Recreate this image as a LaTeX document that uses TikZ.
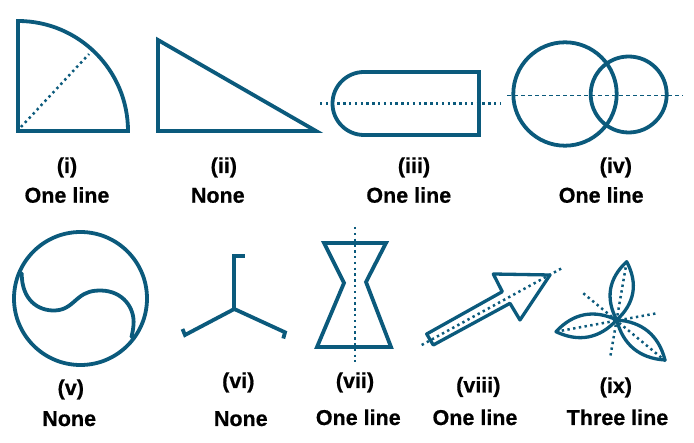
\documentclass[tikz,border=0pt]{standalone}
\usepackage{fontspec}
\setmainfont{Liberation Sans}[BoldFeatures={FakeBold=0.6}]
\usetikzlibrary{calc}
\definecolor{ink}{HTML}{0B5A7C}
\tikzset{
  outline/.style={draw=ink, line width=3.8pt, line join=miter},
  thinout/.style={draw=ink, line width=3.3pt, line join=round},
  dotline/.style={draw=ink, line width=2.5pt, dash pattern=on 2.4pt off 3.4pt},
  dashline/.style={draw=ink, line width=1.4pt, dash pattern=on 4pt off 3pt},
  lab/.style={anchor=base, inner sep=0pt, font=\fontsize{21.5}{24}\selectfont\bfseries, text=black}
}
\begin{document}
\begin{tikzpicture}[x=1pt,y=-1pt]
\useasboundingbox (0,0) rectangle (694,443);

% (i) quarter circle
\coordinate (qa) at (18,131);
\coordinate (qb) at (18,21);
\coordinate (d1a) at (21,127);
\coordinate (d1b) at (89,54);
\draw[outline] (qa) -- (qb) arc[start angle=-90, end angle=0, radius=110] -- cycle;
\draw[dotline] (d1a) -- (d1b);
\node[lab] (l1a) at (67,173) {(i)};
\node[lab] (l1b) at (67,202.7) {One line};

% (ii) triangle
\coordinate (ta) at (158,40);
\coordinate (tb) at (158,131);
\coordinate (tc) at (316,131);
\draw[outline] (ta) -- (tb) -- (tc) -- cycle;
\node[lab] (l2a) at (223.8,173) {(ii)};
\node[lab] (l2b) at (217.8,202.7) {None};

% (iii) rounded rectangle
\coordinate (ra) at (479,72);
\coordinate (rb) at (364,72);
\coordinate (rc) at (479,135);
\coordinate (d3a) at (320,103.7);
\coordinate (d3b) at (500,103.7);
\draw[outline] (ra) -- (rb) arc[start angle=-90, end angle=-270, radius=31.5] -- (rc) -- cycle;
\draw[dotline] (d3a) -- (d3b);
\node[lab] (l3a) at (414,173) {(iii)};
\node[lab] (l3b) at (408.8,202.7) {One line};

% (iv) two circles
\coordinate (ca) at (565,94);
\coordinate (cb) at (628.7,94.5);
\coordinate (d4a) at (507,95.3);
\coordinate (d4b) at (683,95.3);
\draw[outline] (ca) circle[radius=51.7];
\draw[outline] (cb) circle[radius=38];
\draw[dashline] (d4a) -- (d4b);
\node[lab] (l4a) at (615.8,173) {(iv)};
\node[lab] (l4b) at (601.2,202.7) {One line};

% (v) circle with S curve
\coordinate (vc) at (80.5,298.5);
\coordinate (va) at (21.7,273.3);
\coordinate (vb) at (131.5,337);
\draw[outline] (vc) circle[radius=66.5];
\draw[outline, line cap=round] (va) .. controls (21.7,300) and (38,311) .. (55,310.5)
   .. controls (67,310) and (72,303) .. (79,297.5)
   .. controls (86,292) and (92,290.5) .. (101,290.5)
   .. controls (123,291) and (135,308) .. (133.5,325)
   .. controls (133,330) and (132.5,333) .. (vb);
\node[lab] (l5a) at (70.8,395) {(v)};
\node[lab] (l5b) at (69.2,426) {None};

% (vi) three hooked arms
\coordinate (hc) at (234.3,309);
\coordinate (h1) at (234.3,255.7);
\coordinate (h1t) at (242.7,255.7);
\coordinate (h1e) at (242.7,258.5);
\coordinate (h2) at (185,335);
\coordinate (h2t) at (182.5,329);
\coordinate (h3) at (285,332.3);
\coordinate (h3t) at (283.3,338.5);
\draw[outline] (hc) -- (h1) -- (h1t) -- (h1e);
\draw[outline] (hc) -- (h2) -- (h2t);
\draw[outline] (hc) -- (h3) -- (h3t);
\node[lab] (l6a) at (238.3,388) {(vi)};
\node[lab] (l6b) at (240.8,426) {None};

% (vii) hourglass
\coordinate (g1) at (324,243);
\coordinate (g2) at (386,243);
\coordinate (g3) at (366,282);
\coordinate (g4) at (391,347);
\coordinate (g5) at (317,347);
\coordinate (g6) at (344,283);
\coordinate (d7a) at (355,227);
\coordinate (d7b) at (355,362);
\draw[outline] (g1) -- (g2) -- (g3) -- (g4) -- (g5) -- (g6) -- cycle;
\draw[dotline] (d7a) -- (d7b);
\node[lab] (l7a) at (355,388) {(vii)};
\node[lab] (l7b) at (358.3,425) {One line};

% (viii) arrow
\coordinate (e1) at (426.7,334);
\coordinate (s1) at (502.3,291.7);
\coordinate (k1) at (493.3,274);
\coordinate (tip) at (550,275);
\coordinate (k2) at (520,320);
\coordinate (s2) at (510,303.3);
\coordinate (e2) at (433.3,345);
\coordinate (d8a) at (421.7,345);
\coordinate (d8b) at (561.7,268.3);
\draw[thinout] (e1) -- (s1) -- (k1) -- (tip) -- (k2) -- (s2) -- (e2) -- cycle;
\draw[dotline] (d8a) -- (d8b);
\node[lab] (l8a) at (478.3,392.5) {(viii)};
\node[lab] (l8b) at (475,425) {One line};

% (ix) three leaves
\coordinate (lc) at (616.7,320);
\coordinate (lt1) at (626.7,261.7);
\coordinate (lt2) at (556,331.7);
\coordinate (lt3) at (665,360);
\foreach \t in {lt1,lt2,lt3}{
  \draw[thinout] (lc) .. controls ($(lc)!0.33!(\t)!15pt!90:(\t)$) and ($(lc)!0.67!(\t)!15pt!90:(\t)$) .. (\t)
     .. controls ($(lc)!0.67!(\t)!15pt!-90:(\t)$) and ($(lc)!0.33!(\t)!15pt!-90:(\t)$) .. (lc) -- cycle;
}
\coordinate (a1) at (610,358.3);
\coordinate (a2) at (656.7,313.3);
\coordinate (a3a) at (583.3,293.3);
\coordinate (a3b) at (668.3,363.3);
\draw[dotline] (lt1) -- (a1);
\draw[dotline] (lt2) -- (a2);
\draw[dotline] (a3a) -- (a3b);
\node[lab] (l9a) at (615.8,393) {(ix)};
\node[lab] (l9b) at (617.5,425) {Three line};
\end{tikzpicture}
\end{document}
